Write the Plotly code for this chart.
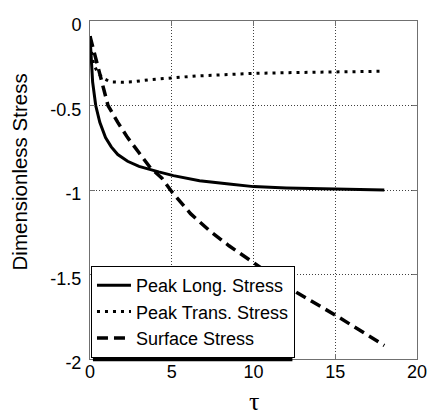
import plotly.graph_objects as go

# ---- data ----
long_x = [0, 0.08, 0.16, 0.35, 0.6, 0.95, 1.3, 1.7, 2.3, 3.0, 3.7, 4.2, 5.1, 6.7, 8.5, 10, 12, 13, 15, 18]
long_y = [-0.09, -0.22, -0.36, -0.5, -0.6, -0.69, -0.745, -0.79, -0.83, -0.86, -0.88, -0.893, -0.915, -0.945, -0.965, -0.98, -0.988, -0.99, -0.995, -1.0]

trans_x = [0, 0.08, 0.24, 0.5, 0.83, 1.24, 2.0, 2.6, 3.7, 5.0, 6.5, 7.75, 10, 12.5, 15, 18]
trans_y = [-0.09, -0.18, -0.26, -0.31, -0.34, -0.36, -0.362, -0.36, -0.347, -0.335, -0.325, -0.32, -0.31, -0.305, -0.30, -0.297]

surf_x = [0, 0.35, 0.7, 1.1, 1.7, 2.3, 3.0, 3.7, 4.4, 5.0, 6.15, 7.3, 8.5, 10, 10.9, 12.7, 15, 18]
surf_y = [-0.09, -0.22, -0.36, -0.5, -0.6, -0.69, -0.78, -0.87, -0.93, -1.01, -1.14, -1.24, -1.33, -1.43, -1.49, -1.61, -1.74, -1.92]

series_names = ["Peak Long. Stress", "Peak Trans. Stress", "Surface Stress"]
x_ticks = [0, 5, 10, 15, 20]
y_ticks = [0, -0.5, -1, -1.5, -2]
y_tick_text = ["0", "-0.5", "-1", "-1.5", "-2"]

FONT = "Liberation Sans, Arial, sans-serif"

fig = go.Figure()
fig.add_trace(go.Scatter(x=long_x, y=long_y, mode="lines", name=series_names[0],
                         line=dict(color="black", width=3, dash="solid")))
fig.add_trace(go.Scatter(x=trans_x, y=trans_y, mode="lines", name=series_names[1],
                         line=dict(color="black", width=3, dash="3px,5px")))
fig.add_trace(go.Scatter(x=surf_x, y=surf_y, mode="lines", name=series_names[2],
                         line=dict(color="black", width=3.5, dash="11px,6px")))

axis_common = dict(
    showline=True, linecolor="#707070", linewidth=1, mirror="ticks",
    ticks="inside", ticklen=5, tickcolor="#707070",
    showgrid=True, gridcolor="#404040", gridwidth=1, griddash="1px,2px",
    zeroline=False, tickfont=dict(family=FONT, size=18, color="black"),
)

fig.update_xaxes(range=[0, 20], tickvals=x_ticks, ticklabelstandoff=-4, **axis_common)
fig.update_yaxes(range=[-2, 0], tickvals=y_ticks, ticktext=y_tick_text,
                 ticklabelstandoff=4, ticklabelshift=4, **axis_common)

fig.add_annotation(text="Dimensionless Stress", xref="paper", yref="paper",
                   x=-0.216, y=0.553, textangle=-90, showarrow=False,
                   xanchor="center", yanchor="middle",
                   font=dict(family=FONT, size=20.5, color="black"))
fig.add_annotation(text="τ", xref="paper", yref="paper",
                   x=0.5, y=-0.127, showarrow=False,
                   xanchor="center", yanchor="middle",
                   font=dict(family="Liberation Serif, serif", size=26, color="black"))

# legend drop shadow (thick bottom/right edge as in the reference)
fig.add_shape(type="rect", xref="paper", yref="paper",
              x0=0.009, x1=0.619, y0=-0.007, y1=0.26,
              fillcolor="black", line=dict(width=0), layer="above")

fig.update_layout(
    width=438, height=415,
    margin=dict(l=90, r=11, t=21, b=56),
    paper_bgcolor="white", plot_bgcolor="white",
    font=dict(family=FONT, color="black"),
    legend=dict(x=0.003, y=0.003, xanchor="left", yanchor="bottom",
                bgcolor="white", bordercolor="black", borderwidth=1,
                font=dict(family=FONT, size=18, color="black"),
                itemwidth=34),
)

fig.write_html("out.html")
